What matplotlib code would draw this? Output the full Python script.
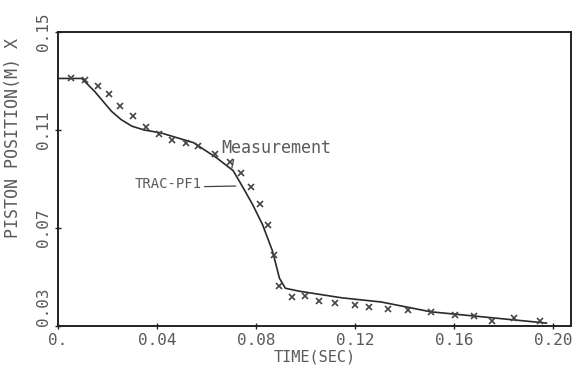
import matplotlib
matplotlib.use("Agg")
import matplotlib.pyplot as plt

# TRAC-PF1 calculation (solid line)
calc_t = [0.0, 0.0096, 0.0148, 0.0216, 0.0255, 0.0299, 0.0347, 0.0415, 0.0547,
          0.0639, 0.0707, 0.0747, 0.0786, 0.0826, 0.0866, 0.0894, 0.0918, 0.0974,
          0.1146, 0.1305, 0.1505, 0.1972]
calc_x = [0.131, 0.131, 0.1257, 0.1176, 0.1142, 0.1115, 0.1100, 0.1088, 0.1048,
          0.0987, 0.0934, 0.0865, 0.0795, 0.0713, 0.0606, 0.0495, 0.0454, 0.0442,
          0.0415, 0.0398, 0.0358, 0.0312]

# Measurement (x markers)
meas_t = [0.0052, 0.0108, 0.0160, 0.0204, 0.0251, 0.0303, 0.0355, 0.0407, 0.0459,
          0.0515, 0.0567, 0.0635, 0.0695, 0.0739, 0.0778, 0.0814, 0.0846, 0.0874,
          0.0894, 0.0946, 0.0998, 0.1054, 0.1118, 0.1198, 0.1257, 0.1333, 0.1413,
          0.1505, 0.1601, 0.1681, 0.1752, 0.1840, 0.1944]
meas_x = [0.1310, 0.1302, 0.1278, 0.1246, 0.1197, 0.1156, 0.1111, 0.1083, 0.1059,
          0.1047, 0.1035, 0.1003, 0.0970, 0.0926, 0.0869, 0.0799, 0.0713, 0.0589,
          0.0462, 0.0417, 0.0422, 0.0401, 0.0394, 0.0387, 0.0379, 0.0371, 0.0364,
          0.0357, 0.0345, 0.0342, 0.0322, 0.0331, 0.0320]

x_ticks = [0.0, 0.04, 0.08, 0.12, 0.16, 0.20]
x_labels = ["0.", "0.04", "0.08", "0.12", "0.16", "0.20"]
y_ticks = [0.03, 0.07, 0.11, 0.15]
y_labels = ["0.03", "0.07", "0.11", "0.15"]

txt = "#5a5a5a"
font = "DejaVu Sans Mono"

fig = plt.figure(figsize=(5.8, 3.84), dpi=100)
ax = fig.add_axes([0.1, 0.151, 0.884, 0.766])

ax.plot(calc_t, calc_x, color="#2a2a2a", lw=1.2)
ax.plot(meas_t, meas_x, ls="none", marker="x", ms=4.5, mew=1.2, color="#444444")

ax.set_xlim(0, 0.207)
ax.set_ylim(0.03, 0.15)
ax.set_xticks(x_ticks)
ax.set_xticklabels(x_labels, family=font, fontsize=11.5, color=txt)
ax.set_yticks(y_ticks)
ax.set_yticklabels(y_labels, family=font, fontsize=11.5, color=txt,
                   rotation=90, va="center")
# lowest y label sits above its tick, clear of the "0." x label
ax.get_yticklabels()[0].set_va("bottom")
ax.tick_params(direction="inout", length=4, width=1, color="#222222", pad=3)

for s in ax.spines.values():
    s.set_linewidth(1.4)
    s.set_color("#222222")

ax.set_xlabel("TIME(SEC)", family=font, fontsize=11, color=txt, labelpad=1)
fig.text(0.022, 0.64, "PISTON POSITION(M) X", family=font, fontsize=12,
         color=txt, rotation=90, ha="center", va="center")

ax.annotate("Measurement", xy=(0.0702, 0.0945), xytext=(0.0658, 0.1027),
            family=font, fontsize=12, color=txt, va="center",
            arrowprops=dict(arrowstyle="-", color="#444444", lw=0.9,
                            shrinkA=0, shrinkB=0, relpos=(0.12, 0)))
ax.annotate("TRAC-PF1", xy=(0.0718, 0.0871), xytext=(0.031, 0.0880),
            family=font, fontsize=10, color=txt, va="center",
            arrowprops=dict(arrowstyle="-", color="#444444", lw=0.9,
                            shrinkA=0, shrinkB=0, relpos=(1, 0.3)))

fig.savefig("out.png", dpi=100)
